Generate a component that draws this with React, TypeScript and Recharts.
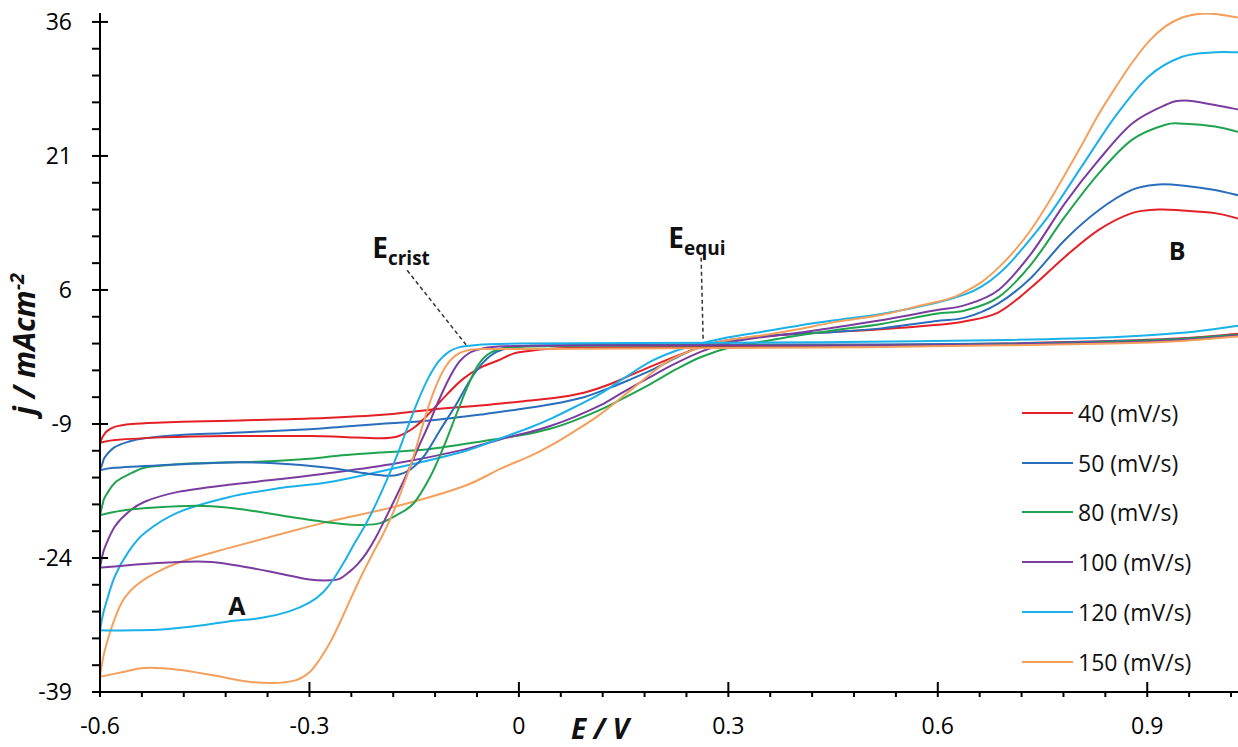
import { LineChart, Line, XAxis, YAxis, Legend, ReferenceLine, ReferenceDot } from 'recharts';

type Pt = [number, number];

const FONT = '"Open Sans", "Noto Sans", sans-serif';

const rates = ['40', '50', '80', '100', '120', '150'];
const colors = ['#e41f26', '#2a6ebb', '#1fa34f', '#7a3d9f', '#1ab1e8', '#f4a05c'];

const xMajorTicks = [-0.6, -0.3, 0, 0.3, 0.6, 0.9];
const yMajorTicks = [-39, -24, -9, 6, 21, 36];

// anodic sweeps: E (V) vs j (mA cm-2), from -0.6 V up to the right edge
const anodic40: Pt[] = [
  [-0.6, -11.1], [-0.596, -10.4], [-0.59, -9.8], [-0.578, -9.3], [-0.555, -9.0], [-0.52, -8.85],
  [-0.45, -8.7], [-0.4, -8.6], [-0.3, -8.4], [-0.2, -8.0], [-0.127, -7.4], [-0.05, -6.9],
  [0.0, -6.5], [0.05, -6.1], [0.093, -5.5], [0.132, -4.5], [0.17, -3.2], [0.213, -1.8],
  [0.261, -0.4], [0.308, 0.4], [0.35, 0.8], [0.4, 1.1], [0.45, 1.3], [0.519, 1.6],
  [0.6, 2.1], [0.639, 2.5], [0.687, 3.5], [0.734, 6.3], [0.782, 9.7], [0.83, 12.7],
  [0.878, 14.6], [0.916, 15.0], [0.95, 14.9], [0.997, 14.6], [1.03, 14.0],
];
const anodic50: Pt[] = [
  [-0.6, -14.2], [-0.596, -13.3], [-0.593, -12.7], [-0.579, -11.6], [-0.56, -11.0], [-0.536, -10.6],
  [-0.48, -10.2], [-0.416, -10.0], [-0.3, -9.6], [-0.253, -9.3], [-0.2, -9.0], [-0.127, -8.6],
  [-0.05, -7.9], [0.0, -7.35], [0.046, -6.8], [0.093, -6.0], [0.132, -4.9], [0.16, -4.0],
  [0.189, -3.0], [0.225, -1.6], [0.261, -0.3], [0.3, 0.4], [0.347, 0.8], [0.4, 1.1],
  [0.452, 1.3], [0.519, 1.7], [0.595, 2.5], [0.639, 2.9], [0.687, 4.5], [0.734, 7.4],
  [0.782, 11.6], [0.83, 14.9], [0.878, 17.2], [0.916, 17.8], [0.95, 17.7], [0.997, 17.2], [1.03, 16.6],
];
const anodic80: Pt[] = [
  [-0.6, -19.2], [-0.596, -17.9], [-0.593, -17.2], [-0.579, -15.6], [-0.56, -14.7], [-0.536, -13.9],
  [-0.5, -13.6], [-0.464, -13.4], [-0.368, -13.2], [-0.3, -12.9], [-0.253, -12.5], [-0.2, -12.2],
  [-0.127, -11.8], [-0.05, -10.9], [0.0, -10.3], [0.046, -9.5], [0.08, -8.6], [0.117, -7.4],
  [0.15, -6.1], [0.189, -4.5], [0.225, -2.9], [0.261, -1.5], [0.308, -0.3], [0.347, 0.2],
  [0.4, 0.9], [0.452, 1.5], [0.519, 2.2], [0.595, 3.3], [0.639, 3.7], [0.687, 5.2],
  [0.734, 8.9], [0.782, 14.2], [0.83, 19.0], [0.878, 22.8], [0.926, 24.5], [0.954, 24.6],
  [0.997, 24.3], [1.03, 23.7],
];
const anodic100: Pt[] = [
  [-0.6, -25.1], [-0.597, -23.9], [-0.593, -22.8], [-0.579, -20.5], [-0.56, -18.9], [-0.536, -17.7],
  [-0.488, -16.6], [-0.416, -15.8], [-0.345, -15.2], [-0.271, -14.5], [-0.175, -13.4], [-0.08, -11.9],
  [-0.026, -10.7], [0.016, -9.9], [0.046, -9.2], [0.08, -8.2], [0.117, -6.9], [0.15, -5.4],
  [0.189, -3.7], [0.225, -2.2], [0.261, -0.9], [0.3, 0.1], [0.347, 0.7], [0.4, 1.2],
  [0.452, 1.8], [0.519, 2.6], [0.595, 3.7], [0.639, 4.3], [0.687, 6.0], [0.734, 10.1],
  [0.782, 15.7], [0.83, 20.5], [0.878, 24.6], [0.926, 26.7], [0.954, 27.2], [0.997, 26.7], [1.03, 26.2],
];
const anodic120: Pt[] = [
  [-0.6, -32.1], [-0.597, -30.8], [-0.593, -29.5], [-0.579, -26.1], [-0.56, -23.4], [-0.536, -21.2],
  [-0.488, -18.9], [-0.416, -17.2], [-0.345, -16.2], [-0.271, -15.5], [-0.175, -13.9], [-0.08, -12.1],
  [-0.026, -10.6], [0.016, -9.4], [0.046, -8.4], [0.08, -7.1], [0.117, -5.6], [0.15, -3.9],
  [0.189, -2.0], [0.225, -0.8], [0.261, 0.0], [0.3, 0.7], [0.347, 1.3], [0.4, 2.0],
  [0.452, 2.6], [0.519, 3.3], [0.595, 4.5], [0.639, 5.5], [0.663, 6.4], [0.687, 7.8],
  [0.71, 9.6], [0.758, 14.2], [0.806, 19.8], [0.854, 25.4], [0.902, 29.9], [0.95, 32.1],
  [0.997, 32.6], [1.03, 32.6],
];
const anodic150: Pt[] = [
  [-0.6, -37.3], [-0.597, -35.8], [-0.593, -34.3], [-0.583, -31.7], [-0.569, -29.0], [-0.55, -27.2],
  [-0.521, -25.7], [-0.483, -24.4], [-0.416, -22.9], [-0.345, -21.4], [-0.271, -19.9], [-0.175, -18.2],
  [-0.08, -16.0], [-0.026, -14.0], [0.016, -12.6], [0.046, -11.4], [0.08, -9.8], [0.117, -7.9],
  [0.165, -4.9], [0.213, -2.0], [0.261, -0.4], [0.3, 0.4], [0.347, 0.9], [0.4, 1.6],
  [0.452, 2.4], [0.519, 3.2], [0.567, 4.1], [0.615, 5.0], [0.639, 5.8], [0.663, 6.9],
  [0.687, 8.5], [0.71, 10.4], [0.734, 12.8], [0.758, 15.7], [0.782, 18.9], [0.806, 22.2],
  [0.83, 25.6], [0.854, 28.6], [0.878, 31.4], [0.902, 33.8], [0.926, 35.5], [0.95, 36.5],
  [0.973, 36.9], [0.997, 36.9], [1.03, 36.5],
];

// cathodic sweeps (return scan), listed by increasing E so each ends at the -0.6 V vertex
const cathodic40: Pt[] = [
  [-0.6, -11.1], [-0.578, -10.8], [-0.511, -10.5], [-0.416, -10.35], [-0.3, -10.35], [-0.253, -10.45],
  [-0.2, -10.6], [-0.174, -10.4], [-0.15, -9.4], [-0.127, -7.7], [-0.102, -5.6], [-0.079, -3.9],
  [-0.055, -2.7], [-0.03, -1.9], [-0.007, -1.1], [0.017, -0.8], [0.04, -0.6], [0.1, -0.45],
  [0.3, -0.35], [0.5, -0.2], [0.7, 0.0], [0.85, 0.3], [0.95, 0.6], [1.03, 1.1],
];
const cathodic50: Pt[] = [
  [-0.6, -14.2], [-0.58, -13.9], [-0.51, -13.6], [-0.416, -13.3], [-0.35, -13.4], [-0.273, -13.9],
  [-0.223, -14.5], [-0.185, -14.8], [-0.16, -14.3], [-0.137, -12.7], [-0.113, -9.7], [-0.089, -6.7],
  [-0.07, -4.1], [-0.051, -2.1], [-0.031, -0.9], [-0.003, -0.4], [0.05, -0.2], [0.3, -0.1],
  [0.5, -0.1], [0.7, 0.0], [0.85, 0.25], [0.95, 0.55], [1.03, 1.0],
];
const cathodic80: Pt[] = [
  [-0.6, -19.2], [-0.56, -18.6], [-0.488, -18.2], [-0.44, -18.2], [-0.392, -18.6], [-0.32, -19.5],
  [-0.253, -20.2], [-0.223, -20.3], [-0.199, -20.1], [-0.175, -19.2], [-0.151, -17.9], [-0.127, -14.9],
  [-0.108, -11.6], [-0.089, -7.8], [-0.074, -4.9], [-0.06, -2.6], [-0.046, -1.3], [-0.027, -0.6],
  [0.0, -0.35], [0.1, -0.25], [0.3, -0.2], [0.5, -0.2], [0.7, -0.1], [0.85, 0.2], [0.95, 0.5], [1.03, 1.0],
];
const cathodic100: Pt[] = [
  [-0.6, -25.1], [-0.56, -24.8], [-0.488, -24.45], [-0.44, -24.45], [-0.392, -25.0], [-0.345, -25.7],
  [-0.3, -26.4], [-0.27, -26.5], [-0.256, -26.3], [-0.242, -25.5], [-0.23, -24.6], [-0.218, -23.4],
  [-0.205, -21.7], [-0.19, -19.4], [-0.175, -17.0], [-0.16, -14.5], [-0.145, -11.8], [-0.13, -9.2],
  [-0.115, -6.4], [-0.1, -3.9], [-0.085, -2.0], [-0.07, -1.0], [-0.055, -0.6], [-0.02, -0.3],
  [0.1, -0.2], [0.3, -0.2], [0.5, -0.2], [0.7, -0.1], [0.85, 0.1], [0.95, 0.4], [1.03, 0.9],
];
const cathodic120: Pt[] = [
  [-0.6, -32.1], [-0.55, -32.1], [-0.511, -32.0], [-0.45, -31.5], [-0.416, -31.1], [-0.368, -30.7],
  [-0.33, -30.0], [-0.3, -29.0], [-0.28, -27.8], [-0.265, -26.3], [-0.25, -24.4], [-0.235, -22.3],
  [-0.22, -20.3], [-0.205, -18.0], [-0.19, -15.4], [-0.175, -12.6], [-0.16, -9.5], [-0.145, -6.5],
  [-0.13, -3.9], [-0.115, -2.0], [-0.1, -0.9], [-0.085, -0.4], [-0.06, -0.15], [0.0, 0.0],
  [0.3, 0.1], [0.5, 0.2], [0.7, 0.4], [0.85, 0.7], [0.95, 1.2], [1.03, 2.0],
];
const cathodic150: Pt[] = [
  [-0.6, -37.3], [-0.569, -36.8], [-0.536, -36.3], [-0.488, -36.5], [-0.44, -37.1], [-0.392, -37.8],
  [-0.354, -38.0], [-0.32, -37.7], [-0.3, -36.8], [-0.285, -35.3], [-0.27, -33.4], [-0.255, -31.0],
  [-0.24, -28.4], [-0.225, -25.9], [-0.21, -23.6], [-0.195, -21.4], [-0.18, -18.9], [-0.165, -15.8],
  [-0.15, -12.4], [-0.135, -8.4], [-0.12, -5.0], [-0.105, -2.6], [-0.09, -1.3], [-0.07, -0.7],
  [-0.04, -0.6], [0.0, -0.6], [0.3, -0.5], [0.5, -0.4], [0.7, -0.2], [0.85, 0.0], [0.95, 0.3], [1.03, 0.8],
];

const anodicSweeps = [anodic40, anodic50, anodic80, anodic100, anodic120, anodic150];
const cathodicSweeps = [cathodic40, cathodic50, cathodic80, cathodic100, cathodic120, cathodic150];

const toRows = (pts: Pt[]) => pts.map(([E, j]) => ({ E, j }));

// 4 minor ticks between labelled ones on both axes
const xTicks: number[] = [];
for (let k = 0; k <= 27; k++) xTicks.push(Math.round((-0.6 + 0.06 * k) * 100) / 100);
const yTicks: number[] = [];
for (let v = -39; v <= 36; v += 3) yTicks.push(v);

const isMajor = (list: number[], v: number) => list.some((t) => Math.abs(t - v) < 1e-6);

// Catmull-Rom style smoothing through every point (like a spreadsheet "smoothed line")
const smoothCurve = (context: any) => {
  let pts: number[][] = [];
  return {
    areaStart() {},
    areaEnd() {},
    lineStart() {
      pts = [];
    },
    point(x: number, y: number) {
      pts.push([+x, +y]);
    },
    lineEnd() {
      const n = pts.length;
      if (!n) return;
      context.moveTo(pts[0][0], pts[0][1]);
      for (let i = 0; i < n - 1; i++) {
        const p0 = pts[Math.max(i - 1, 0)];
        const p1 = pts[i];
        const p2 = pts[i + 1];
        const p3 = pts[Math.min(i + 2, n - 1)];
        context.bezierCurveTo(
          p1[0] + (p2[0] - p0[0]) / 6,
          p1[1] + (p2[1] - p0[1]) / 6,
          p2[0] - (p3[0] - p1[0]) / 6,
          p2[1] - (p3[1] - p1[1]) / 6,
          p2[0],
          p2[1],
        );
      }
    },
  };
};

const XTick = (props: any) => {
  const { x, y, payload } = props;
  const major = isMajor(xMajorTicks, payload.value);
  return (
    <g>
      <line x1={x} x2={x} y1={major ? y - 10 : y} y2={y + 5} stroke="#000" strokeWidth={2} />
      {major && (
        <text x={x} y={y + 42} textAnchor="middle" fontFamily={FONT} fontSize={23} fill="#000">
          {payload.value === 0 ? '0' : String(payload.value)}
        </text>
      )}
    </g>
  );
};

const YTick = (props: any) => {
  const { x, y, payload } = props;
  const major = isMajor(yMajorTicks, payload.value);
  return (
    <g>
      <line x1={x - 8} x2={major ? x + 8 : x} y1={y} y2={y} stroke="#000" strokeWidth={2} />
      {major && (
        <text x={x - 28} y={y + 8} textAnchor="end" fontFamily={FONT} fontSize={23} fill="#000">
          {String(payload.value)}
        </text>
      )}
    </g>
  );
};

const SubLabel = ({ cx, cy, main, sub }: { cx: number; cy: number; main: string; sub: string }) => (
  <text x={cx} y={cy} fontFamily={FONT} fontWeight="bold" fill="#111">
    <tspan fontSize={28}>{main}</tspan>
    <tspan fontSize={19} dy={7}>{sub}</tspan>
  </text>
);

const Letter = ({ cx, cy, text }: { cx: number; cy: number; text: string }) => (
  <text x={cx} y={cy} textAnchor="middle" fontFamily={FONT} fontWeight="bold" fontSize={25} fill="#111">
    {text}
  </text>
);

const RateLegend = () => (
  <div style={{ fontFamily: FONT, fontSize: 23, color: '#111' }}>
    {rates.map((r, i) => (
      <div key={r} style={{ display: 'flex', alignItems: 'center', height: 49.8 }}>
        <span style={{ display: 'inline-block', width: 51, height: 2, background: colors[i], marginRight: 5 }} />
        <span>{r} (mV/s)</span>
      </div>
    ))}
  </div>
);

export default function App() {
  return (
    <div>
      <style>{'body{margin:0;background:#fff}'}</style>
      <LineChart width={1238} height={747} margin={{ top: 13, right: 0, bottom: 0, left: 0 }}>
        <XAxis
          dataKey="E"
          type="number"
          domain={[-0.6, 1.03]}
          allowDataOverflow
          ticks={xTicks}
          interval={0}
          tick={XTick}
          tickLine={false}
          tickSize={0}
          tickMargin={0}
          height={55}
          axisLine={{ stroke: '#000', strokeWidth: 2 }}
        />
        <YAxis
          type="number"
          domain={[-39, 37]}
          allowDataOverflow
          ticks={yTicks}
          interval={0}
          tick={YTick}
          tickLine={false}
          tickSize={0}
          tickMargin={0}
          width={100}
          axisLine={{ stroke: '#000', strokeWidth: 2 }}
        />
        {rates.map((r, i) => (
          <Line
            key={'a' + r}
            data={toRows(anodicSweeps[i])}
            dataKey="j"
            type={smoothCurve as any}
            stroke={colors[i]}
            strokeWidth={2}
            dot={false}
            activeDot={false}
            isAnimationActive={false}
          />
        ))}
        {rates.map((r, i) => (
          <Line
            key={'c' + r}
            data={toRows(cathodicSweeps[i])}
            dataKey="j"
            type={smoothCurve as any}
            stroke={colors[i]}
            strokeWidth={2}
            dot={false}
            activeDot={false}
            legendType="none"
            isAnimationActive={false}
          />
        ))}
        <ReferenceLine
          segment={[{ x: -0.16, y: 8.2 }, { x: -0.073, y: -0.4 }]}
          stroke="#333"
          strokeWidth={1.5}
          strokeDasharray="4 3"
        />
        <ReferenceLine
          segment={[{ x: 0.261, y: 9.6 }, { x: 0.264, y: 0.2 }]}
          stroke="#333"
          strokeWidth={1.5}
          strokeDasharray="4 3"
        />
        <ReferenceDot x={-0.21} y={9.6} r={0} shape={(p: any) => <SubLabel cx={p.cx} cy={p.cy} main="E" sub="crist" />} />
        <ReferenceDot x={0.214} y={10.7} r={0} shape={(p: any) => <SubLabel cx={p.cx} cy={p.cy} main="E" sub="equi" />} />
        <ReferenceDot x={-0.404} y={-30.4} r={0} shape={(p: any) => <Letter cx={p.cx} cy={p.cy} text="A" />} />
        <ReferenceDot x={0.943} y={9.4} r={0} shape={(p: any) => <Letter cx={p.cx} cy={p.cy} text="B" />} />
        <Legend
          layout="vertical"
          align="center"
          verticalAlign="middle"
          content={RateLegend}
          wrapperStyle={{ left: 1022, top: 388, width: 216 }}
        />
        <text
          transform="translate(35,344) rotate(-90)"
          textAnchor="middle"
          fontFamily={FONT}
          fontWeight="bold"
          fontStyle="italic"
          fontSize={30}
          fill="#111"
        >
          j / mAcm<tspan fontSize={20} dy={-11}>-2</tspan>
        </text>
        <text
          x={600}
          y={739}
          textAnchor="middle"
          fontFamily={FONT}
          fontWeight="bold"
          fontStyle="italic"
          fontSize={28}
          fill="#111"
        >
          E / V
        </text>
      </LineChart>
    </div>
  );
}
